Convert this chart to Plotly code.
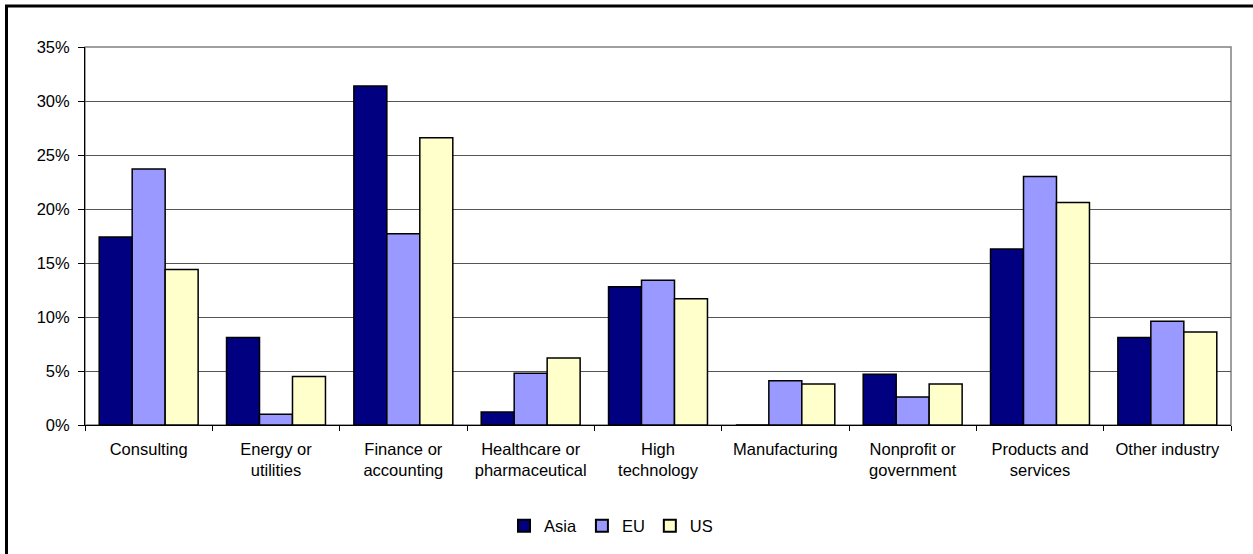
import plotly.graph_objects as go

categories = ["Consulting", "Energy or<br>utilities", "Finance or<br>accounting",
              "Healthcare or<br>pharmaceutical", "High<br>technology", "Manufacturing",
              "Nonprofit or<br>government", "Products and<br>services", "Other industry"]
asia = [17.4, 8.1, 31.4, 1.2, 12.8, 0.0, 4.7, 16.3, 8.1]
eu = [23.7, 1.0, 17.7, 4.8, 13.4, 4.1, 2.6, 23.0, 9.6]
us = [14.4, 4.5, 26.6, 6.2, 11.7, 3.8, 3.8, 20.6, 8.6]
series_names = ["Asia", "EU", "US"]
series_colors = ["#000080", "#9999FF", "#FFFFCC"]
y_ticks = [0, 5, 10, 15, 20, 25, 30, 35]

W, H = 1253, 554
L, R, T, B = 85, 1231, 47, 426
pw, ph = R - L, B - T

def px_x(p):
    return (p - L) / pw

def px_y(p):
    return (B - p) / ph

fig = go.Figure()
for name, vals, col in zip(series_names, [asia, eu, us], series_colors):
    fig.add_trace(go.Bar(
        name=name, x=categories, y=vals,
        marker=dict(color=col, line=dict(color="black", width=1.5)),
    ))

font = dict(family="Liberation Sans, Arial, sans-serif", size=16.5, color="black")

fig.update_layout(
    width=W, height=H,
    margin=dict(l=L, r=W - R, t=T, b=H - B),
    paper_bgcolor="white", plot_bgcolor="white",
    barmode="group", bargap=0.223, bargroupgap=0,
    font=font,
    showlegend=True,
    legend=dict(orientation="h", x=px_x(611), xanchor="center", y=px_y(526), yanchor="middle",
                font=font, itemwidth=30, traceorder="normal",
                itemsizing="constant", tracegroupgap=0),
    xaxis=dict(showline=True, linecolor="black", linewidth=1, ticks="outside", ticklen=5,
               tickcolor="black", tickson="boundaries", showgrid=False, tickangle=0,
               ticklabelstandoff=9),
    yaxis=dict(range=[0, 35], tickvals=y_ticks, ticktext=[f"{v}%" for v in y_ticks],
               showline=True, linecolor="black", linewidth=1, ticks="outside", ticklen=6,
               tickcolor="black", showgrid=True, gridcolor="#555555", gridwidth=1,
               zeroline=False, ticklabelstandoff=5),
    shapes=[
        dict(type="rect", xref="paper", yref="paper", x0=0, x1=1, y0=0, y1=1,
             line=dict(color="#808080", width=1.5), layer="below"),
        dict(type="rect", xref="paper", yref="paper",
             x0=px_x(6.5), x1=px_x(1275), y0=px_y(570), y1=px_y(6),
             line=dict(color="black", width=3)),
    ],
)

fig.write_html("out.html")
